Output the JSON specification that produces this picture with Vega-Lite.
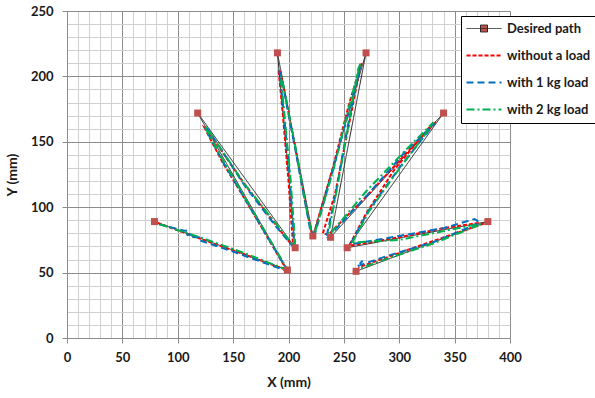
{
 "$schema": "https://vega.github.io/schema/vega-lite/v6.json",
 "width": 443,
 "height": 327,
 "autosize": {"type": "none"},
 "padding": {"left": 67, "top": 11, "right": 85, "bottom": 60},
 "background": "white",
 "config": {"view": {"stroke": null}, "font": "Lato"},
 "datasets": {
  "paths": [
   {"series": "Desired path", "i": 1, "x": 79, "y": 89},
   {"series": "Desired path", "i": 2, "x": 199, "y": 52},
   {"series": "Desired path", "i": 3, "x": 118, "y": 172},
   {"series": "Desired path", "i": 4, "x": 206, "y": 69},
   {"series": "Desired path", "i": 5, "x": 190, "y": 218},
   {"series": "Desired path", "i": 6, "x": 222, "y": 78},
   {"series": "Desired path", "i": 7, "x": 270, "y": 218},
   {"series": "Desired path", "i": 8, "x": 238, "y": 77},
   {"series": "Desired path", "i": 9, "x": 340, "y": 172},
   {"series": "Desired path", "i": 10, "x": 253, "y": 69},
   {"series": "Desired path", "i": 11, "x": 380, "y": 89},
   {"series": "Desired path", "i": 12, "x": 261, "y": 51},

   {"series": "without a load", "i": 1, "x": 82, "y": 88},
   {"series": "without a load", "i": 2, "x": 120, "y": 76},
   {"series": "without a load", "i": 3, "x": 160, "y": 64},
   {"series": "without a load", "i": 4, "x": 195, "y": 53},
   {"series": "without a load", "i": 5, "x": 197, "y": 54},
   {"series": "without a load", "i": 6, "x": 165, "y": 100},
   {"series": "without a load", "i": 7, "x": 140, "y": 135},
   {"series": "without a load", "i": 8, "x": 124, "y": 161},
   {"series": "without a load", "i": 9, "x": 126, "y": 160},
   {"series": "without a load", "i": 10, "x": 160, "y": 118},
   {"series": "without a load", "i": 11, "x": 190, "y": 85},
   {"series": "without a load", "i": 12, "x": 204, "y": 70},
   {"series": "without a load", "i": 13, "x": 204, "y": 72},
   {"series": "without a load", "i": 14, "x": 200, "y": 120},
   {"series": "without a load", "i": 15, "x": 195, "y": 170},
   {"series": "without a load", "i": 16, "x": 191, "y": 205},
   {"series": "without a load", "i": 17, "x": 193, "y": 203},
   {"series": "without a load", "i": 18, "x": 205, "y": 150},
   {"series": "without a load", "i": 19, "x": 215, "y": 105},
   {"series": "without a load", "i": 20, "x": 221, "y": 80},
   {"series": "without a load", "i": 21, "x": 223, "y": 80},
   {"series": "without a load", "i": 22, "x": 240, "y": 130},
   {"series": "without a load", "i": 23, "x": 255, "y": 180},
   {"series": "without a load", "i": 24, "x": 266, "y": 210},
   {"series": "without a load", "i": 25, "x": 265, "y": 208},
   {"series": "without a load", "i": 26, "x": 255, "y": 165},
   {"series": "without a load", "i": 27, "x": 242, "y": 110},
   {"series": "without a load", "i": 28, "x": 231, "y": 80},
   {"series": "without a load", "i": 29, "x": 236, "y": 79},
   {"series": "without a load", "i": 30, "x": 270, "y": 108},
   {"series": "without a load", "i": 31, "x": 305, "y": 140},
   {"series": "without a load", "i": 32, "x": 333, "y": 165},
   {"series": "without a load", "i": 33, "x": 330, "y": 164},
   {"series": "without a load", "i": 34, "x": 295, "y": 128},
   {"series": "without a load", "i": 35, "x": 270, "y": 95},
   {"series": "without a load", "i": 36, "x": 255, "y": 71},
   {"series": "without a load", "i": 37, "x": 258, "y": 71},
   {"series": "without a load", "i": 38, "x": 300, "y": 77},
   {"series": "without a load", "i": 39, "x": 340, "y": 84},
   {"series": "without a load", "i": 40, "x": 372, "y": 88},
   {"series": "without a load", "i": 41, "x": 375, "y": 87},
   {"series": "without a load", "i": 42, "x": 330, "y": 74},
   {"series": "without a load", "i": 43, "x": 290, "y": 62},
   {"series": "without a load", "i": 44, "x": 263, "y": 54},

   {"series": "with 1 kg load", "i": 1, "x": 83, "y": 87},
   {"series": "with 1 kg load", "i": 2, "x": 106, "y": 82},
   {"series": "with 1 kg load", "i": 3, "x": 110, "y": 82},
   {"series": "with 1 kg load", "i": 4, "x": 111, "y": 79},
   {"series": "with 1 kg load", "i": 5, "x": 108, "y": 79},
   {"series": "with 1 kg load", "i": 6, "x": 115, "y": 77},
   {"series": "with 1 kg load", "i": 7, "x": 119, "y": 77},
   {"series": "with 1 kg load", "i": 8, "x": 119, "y": 75},
   {"series": "with 1 kg load", "i": 9, "x": 150, "y": 66},
   {"series": "with 1 kg load", "i": 10, "x": 196, "y": 52},
   {"series": "with 1 kg load", "i": 11, "x": 198, "y": 53},
   {"series": "with 1 kg load", "i": 12, "x": 170, "y": 93},
   {"series": "with 1 kg load", "i": 13, "x": 140, "y": 136},
   {"series": "with 1 kg load", "i": 14, "x": 125, "y": 160},
   {"series": "with 1 kg load", "i": 15, "x": 127, "y": 160},
   {"series": "with 1 kg load", "i": 16, "x": 160, "y": 117},
   {"series": "with 1 kg load", "i": 17, "x": 188, "y": 86},
   {"series": "with 1 kg load", "i": 18, "x": 203, "y": 71},
   {"series": "with 1 kg load", "i": 19, "x": 205, "y": 72},
   {"series": "with 1 kg load", "i": 20, "x": 201, "y": 125},
   {"series": "with 1 kg load", "i": 21, "x": 196, "y": 170},
   {"series": "with 1 kg load", "i": 22, "x": 192, "y": 203},
   {"series": "with 1 kg load", "i": 23, "x": 193, "y": 202},
   {"series": "with 1 kg load", "i": 24, "x": 206, "y": 145},
   {"series": "with 1 kg load", "i": 25, "x": 214, "y": 108},
   {"series": "with 1 kg load", "i": 26, "x": 220, "y": 81},
   {"series": "with 1 kg load", "i": 27, "x": 224, "y": 80},
   {"series": "with 1 kg load", "i": 28, "x": 240, "y": 128},
   {"series": "with 1 kg load", "i": 29, "x": 256, "y": 178},
   {"series": "with 1 kg load", "i": 30, "x": 265, "y": 207},
   {"series": "with 1 kg load", "i": 31, "x": 264, "y": 205},
   {"series": "with 1 kg load", "i": 32, "x": 253, "y": 160},
   {"series": "with 1 kg load", "i": 33, "x": 243, "y": 112},
   {"series": "with 1 kg load", "i": 34, "x": 234, "y": 76},
   {"series": "with 1 kg load", "i": 35, "x": 237, "y": 78},
   {"series": "with 1 kg load", "i": 36, "x": 272, "y": 110},
   {"series": "with 1 kg load", "i": 37, "x": 305, "y": 142},
   {"series": "with 1 kg load", "i": 38, "x": 332, "y": 164},
   {"series": "with 1 kg load", "i": 39, "x": 330, "y": 162},
   {"series": "with 1 kg load", "i": 40, "x": 300, "y": 130},
   {"series": "with 1 kg load", "i": 41, "x": 272, "y": 97},
   {"series": "with 1 kg load", "i": 42, "x": 256, "y": 72},
   {"series": "with 1 kg load", "i": 43, "x": 259, "y": 72},
   {"series": "with 1 kg load", "i": 44, "x": 300, "y": 78},
   {"series": "with 1 kg load", "i": 45, "x": 340, "y": 84},
   {"series": "with 1 kg load", "i": 46, "x": 368, "y": 91},
   {"series": "with 1 kg load", "i": 47, "x": 373, "y": 88},
   {"series": "with 1 kg load", "i": 48, "x": 330, "y": 73},
   {"series": "with 1 kg load", "i": 49, "x": 290, "y": 63},
   {"series": "with 1 kg load", "i": 50, "x": 262, "y": 55},
   {"series": "with 1 kg load", "i": 51, "x": 267, "y": 59},

   {"series": "with 2 kg load", "i": 1, "x": 84, "y": 87},
   {"series": "with 2 kg load", "i": 2, "x": 120, "y": 77},
   {"series": "with 2 kg load", "i": 3, "x": 160, "y": 65},
   {"series": "with 2 kg load", "i": 4, "x": 196, "y": 53},
   {"series": "with 2 kg load", "i": 5, "x": 198, "y": 54},
   {"series": "with 2 kg load", "i": 6, "x": 170, "y": 94},
   {"series": "with 2 kg load", "i": 7, "x": 140, "y": 137},
   {"series": "with 2 kg load", "i": 8, "x": 124, "y": 162},
   {"series": "with 2 kg load", "i": 9, "x": 126, "y": 161},
   {"series": "with 2 kg load", "i": 10, "x": 160, "y": 118},
   {"series": "with 2 kg load", "i": 11, "x": 190, "y": 86},
   {"series": "with 2 kg load", "i": 12, "x": 205, "y": 70},
   {"series": "with 2 kg load", "i": 13, "x": 206, "y": 73},
   {"series": "with 2 kg load", "i": 14, "x": 202, "y": 120},
   {"series": "with 2 kg load", "i": 15, "x": 197, "y": 165},
   {"series": "with 2 kg load", "i": 16, "x": 193, "y": 200},
   {"series": "with 2 kg load", "i": 17, "x": 194, "y": 199},
   {"series": "with 2 kg load", "i": 18, "x": 207, "y": 143},
   {"series": "with 2 kg load", "i": 19, "x": 215, "y": 104},
   {"series": "with 2 kg load", "i": 20, "x": 221, "y": 79},
   {"series": "with 2 kg load", "i": 21, "x": 224, "y": 81},
   {"series": "with 2 kg load", "i": 22, "x": 241, "y": 130},
   {"series": "with 2 kg load", "i": 23, "x": 255, "y": 178},
   {"series": "with 2 kg load", "i": 24, "x": 265, "y": 210},
   {"series": "with 2 kg load", "i": 25, "x": 263, "y": 206},
   {"series": "with 2 kg load", "i": 26, "x": 254, "y": 162},
   {"series": "with 2 kg load", "i": 27, "x": 244, "y": 115},
   {"series": "with 2 kg load", "i": 28, "x": 236, "y": 80},
   {"series": "with 2 kg load", "i": 29, "x": 238, "y": 80},
   {"series": "with 2 kg load", "i": 30, "x": 270, "y": 112},
   {"series": "with 2 kg load", "i": 31, "x": 305, "y": 143},
   {"series": "with 2 kg load", "i": 32, "x": 331, "y": 165},
   {"series": "with 2 kg load", "i": 33, "x": 329, "y": 162},
   {"series": "with 2 kg load", "i": 34, "x": 298, "y": 127},
   {"series": "with 2 kg load", "i": 35, "x": 272, "y": 96},
   {"series": "with 2 kg load", "i": 36, "x": 257, "y": 72},
   {"series": "with 2 kg load", "i": 37, "x": 259, "y": 73},
   {"series": "with 2 kg load", "i": 38, "x": 300, "y": 75},
   {"series": "with 2 kg load", "i": 39, "x": 330, "y": 80},
   {"series": "with 2 kg load", "i": 40, "x": 365, "y": 86},
   {"series": "with 2 kg load", "i": 41, "x": 374, "y": 87},
   {"series": "with 2 kg load", "i": 42, "x": 330, "y": 72},
   {"series": "with 2 kg load", "i": 43, "x": 290, "y": 61},
   {"series": "with 2 kg load", "i": 44, "x": 264, "y": 53}
  ]
 },
 "data": {"name": "paths"},
 "encoding": {
  "x": {"field": "x", "type": "quantitative", "scale": {"domain": [0, 400], "nice": false},
   "axis": {
    "values": [0,10,20,30,40,50,60,70,80,90,100,110,120,130,140,150,160,170,180,190,200,210,220,230,240,250,260,270,280,290,300,310,320,330,340,350,360,370,380,390,400],
    "labelExpr": "datum.value % 50 === 0 ? datum.label : ''",
    "labelOverlap": false, "labelFlush": false,
    "gridColor": {"condition": {"test": "datum.value % 50 === 0", "value": "#8c8c8c"}, "value": "#d0d0d0"},
    "tickOpacity": {"condition": {"test": "datum.value % 50 === 0", "value": 1}, "value": 0},
    "tickColor": "#8c8c8c", "tickSize": 5, "domainColor": "#8c8c8c",
    "labelFont": "Lato", "labelFontSize": 13, "labelFontWeight": "bold", "labelColor": "#1a1a1a", "labelPadding": 8,
    "title": "X (mm)", "titleFont": "Lato", "titleFontSize": 14, "titleFontWeight": "bold", "titleColor": "#1a1a1a", "titlePadding": 11
   }},
  "y": {"field": "y", "type": "quantitative", "scale": {"domain": [0, 250], "nice": false},
   "axis": {
    "values": [0,10,20,30,40,50,60,70,80,90,100,110,120,130,140,150,160,170,180,190,200,210,220,230,240,250],
    "labelExpr": "datum.value % 50 === 0 ? datum.label : ''",
    "labelOverlap": false, "labelFlush": false,
    "gridColor": {"condition": {"test": "datum.value % 50 === 0", "value": "#8c8c8c"}, "value": "#d0d0d0"},
    "tickOpacity": {"condition": {"test": "datum.value % 50 === 0", "value": 1}, "value": 0},
    "tickColor": "#8c8c8c", "tickSize": 5, "domainColor": "#8c8c8c",
    "labelFont": "Lato", "labelFontSize": 13, "labelFontWeight": "bold", "labelColor": "#1a1a1a", "labelPadding": 9,
    "title": "Y (mm)", "titleFont": "Lato", "titleFontSize": 14, "titleFontWeight": "bold", "titleColor": "#1a1a1a", "titlePadding": 11
   }},
  "order": {"field": "i", "type": "quantitative"}
 },
 "layer": [
  {
   "transform": [{"filter": "datum.series === 'Desired path'"}],
   "mark": {"type": "line", "strokeWidth": 1},
   "encoding": {
    "color": {"field": "series", "type": "nominal",
     "scale": {"domain": ["Desired path", "without a load", "with 1 kg load", "with 2 kg load"], "range": ["#262626", "#ff0000", "#0070c0", "#00b050"]},
     "legend": {
      "title": null, "orient": "none", "legendX": 394, "legendY": 5,
      "symbolSize": 196, "symbolType": "M-1,0H4",
      "labelFont": "Lato", "labelFontSize": 13, "labelFontWeight": "bold", "labelColor": "#1a1a1a", "labelLimit": 200,
      "labelOffset": 27, "rowPadding": 13, "padding": 6, "strokeColor": "#000000", "fillColor": "#ffffff",
      "encode": {"symbols": {"update": {
       "shape": {"signal": "datum.value === 'Desired path' ? 'M-1,0H4M1,-0.5H2V0.5H1Z' : 'M-1,0H4'"},
       "fill": {"signal": "datum.value === 'Desired path' ? '#C0504D' : 'transparent'"},
       "strokeWidth": {"signal": "datum.value === 'Desired path' ? 1 : 2"}
      }}}
     }},
    "strokeDash": {"field": "series", "type": "nominal",
     "scale": {"domain": ["Desired path", "without a load", "with 1 kg load", "with 2 kg load"], "range": [[1, 0], [4, 2], [7, 4], [8, 3, 2, 3]]}}
   }
  },
  {
   "transform": [{"filter": "datum.series !== 'Desired path'"}],
   "mark": {"type": "line", "strokeWidth": 2},
   "encoding": {
    "color": {"field": "series", "type": "nominal"},
    "strokeDash": {"field": "series", "type": "nominal"}
   }
  },
  {
   "transform": [{"filter": "datum.series === 'Desired path'"}],
   "mark": {"type": "point", "shape": "square", "filled": true, "color": "#C0504D", "size": 49, "opacity": 1}
  }
 ]
}
